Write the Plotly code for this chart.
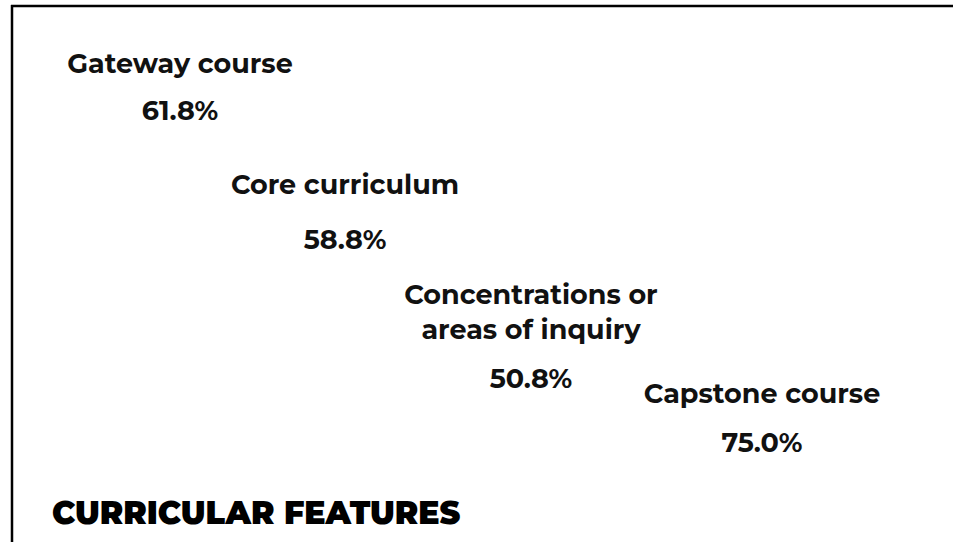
import plotly.graph_objects as go

# ---- data ----
categories = ["Gateway course", "Core curriculum", "Concentrations or<br>areas of inquiry", "Capstone course"]
values = [61.8, 58.8, 50.8, 75.0]
title_text = "CURRICULAR FEATURES"

# ---- layout positions (pixel space of the 953x542 canvas) ----
label_x = [180, 345, 531, 762]
label_y = [66, 187, 315, 396]
value_y = [113, 242, 381, 445]

W, H = 953, 542
FONT = "Montserrat, Inter, 'Open Sans', sans-serif"

fig = go.Figure()
fig.add_trace(go.Scatter(
    x=label_x, y=label_y, mode="text", text=categories,
    textposition="middle center",
    textfont=dict(family=FONT, size=27, color="#111111", weight=700),
    hoverinfo="skip", showlegend=False,
))
fig.add_trace(go.Scatter(
    x=label_x, y=value_y, mode="text", text=[f"{v:.1f}%" for v in values],
    textposition="middle center",
    textfont=dict(family=FONT, size=27, color="#111111", weight=700),
    hoverinfo="skip", showlegend=False,
))

fig.add_annotation(
    x=50, y=512, xref="x", yref="y", text=title_text, showarrow=False,
    xanchor="left", yanchor="middle",
    font=dict(family=FONT, size=31.6, color="#000000", weight=900),
)

# frame lines (top and left)
fig.add_shape(type="line", x0=11, x1=W, y0=6, y1=6, xref="x", yref="y",
              line=dict(color="#000000", width=2.5))
fig.add_shape(type="line", x0=12, x1=12, y0=5, y1=H, xref="x", yref="y",
              line=dict(color="#000000", width=2.5))

fig.update_layout(
    width=W, height=H,
    margin=dict(l=0, r=0, t=0, b=0),
    paper_bgcolor="white", plot_bgcolor="white",
    xaxis=dict(range=[0, W], visible=False, fixedrange=True),
    yaxis=dict(range=[H, 0], visible=False, fixedrange=True),
)

fig.write_html("out.html", config={"displayModeBar": False},
               post_script="document.body.style.margin='0px';")
